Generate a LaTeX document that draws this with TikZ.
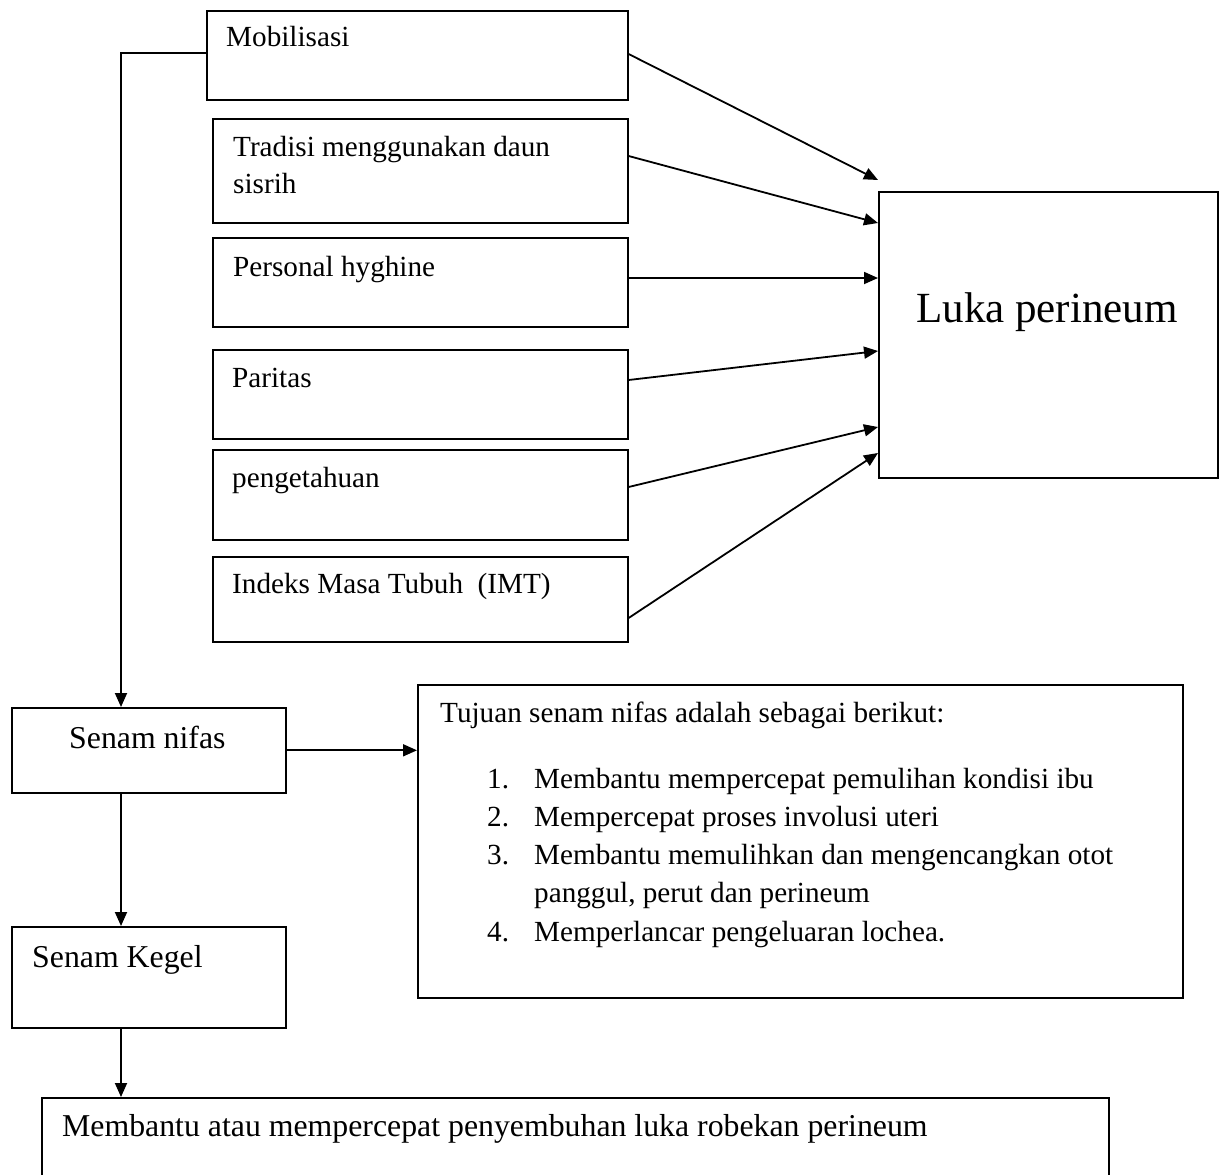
\documentclass[tikz,border=0pt]{standalone}
\usepackage{fontspec}
\setmainfont{Liberation Serif}
\usetikzlibrary{arrows.meta,calc}
\begin{document}
\begin{tikzpicture}[x=1pt,y=-1pt,
  box/.style={draw,line width=1.6pt,rectangle,inner sep=0pt,anchor=north west},
  txt/.style={anchor=base west,inner sep=0pt,font=\fontsize{29.2}{35}\selectfont},
  txtb/.style={anchor=base west,inner sep=0pt,font=\fontsize{31.8}{38}\selectfont},
  arr/.style={line width=1.8pt,-{Triangle[length=14pt,width=12pt]}}]
\useasboundingbox (0,0) rectangle (1221,1175);
\clip (0,0) rectangle (1221,1175);
% boxes
\node[box,minimum width=421pt,minimum height=89pt] (mob) at (206,10) {};
\node[box,minimum width=415pt,minimum height=104pt] (trad) at (212,118) {};
\node[box,minimum width=415pt,minimum height=89pt] (pers) at (212,237) {};
\node[box,minimum width=415pt,minimum height=89pt] (par) at (212,349) {};
\node[box,minimum width=415pt,minimum height=90pt] (peng) at (212,449) {};
\node[box,minimum width=415pt,minimum height=85pt] (imt) at (212,556) {};
\node[box,minimum width=339pt,minimum height=286pt] (luka) at (878,191) {};
\node[box,minimum width=274pt,minimum height=85pt] (nifas) at (11,707) {};
\node[box,minimum width=765pt,minimum height=313pt] (tuj) at (417,684) {};
\node[box,minimum width=274pt,minimum height=101pt] (kegel) at (11,926) {};
\node[box,minimum width=1067pt,minimum height=130pt] (help) at (41,1097) {};
% texts
\node[txt] (tmob) at (226,46) {Mobilisasi};
\node[txt] (ttrad1) at (233,156) {Tradisi menggunakan daun};
\node[txt] (ttrad2) at (233,193) {sisrih};
\node[txt] (tpers) at (233,276) {Personal hyghine};
\node[txt] (tpar) at (232,387) {Paritas};
\node[txt] (tpeng) at (232,487) {pengetahuan};
\node[txt] (timt) at (232,593) {Indeks Masa Tubuh\ \ (IMT)};
\node[anchor=base,inner sep=0pt,font=\fontsize{43}{50}\selectfont] (tluka) at (1047,322) {Luka perineum};
\node[txtb] (tnifas) at (69,748) {Senam nifas};
\node[txt] (ttuj) at (440,722) {Tujuan senam nifas adalah sebagai berikut:};
\node[txt] (n1) at (487,788) {1.};
\node[txt] (i1) at (534,788) {Membantu mempercepat pemulihan kondisi ibu};
\node[txt] (n2) at (487,826) {2.};
\node[txt] (i2) at (534,826) {Mempercepat proses involusi uteri};
\node[txt] (n3) at (487,864) {3.};
\node[txt] (i3) at (534,864) {Membantu memulihkan dan mengencangkan otot};
\node[txt] (i3b) at (534,902) {panggul, perut dan perineum};
\node[txt] (n4) at (487,941) {4.};
\node[txt] (i4) at (534,941) {Memperlancar pengeluaran lochea.};
\node[txtb] (tkegel) at (32,967) {Senam Kegel};
\node[txtb] (thelp) at (62,1136) {Membantu atau mempercepat penyembuhan luka robekan perineum};
% connection points
\coordinate (nifasin) at ($(nifas.north west)+(110,0)$);
\coordinate (nifasout) at ($(nifas.south west)+(110,0)$);
\coordinate (kegelin) at ($(kegel.north west)+(110,0)$);
\coordinate (kegelout) at ($(kegel.south west)+(110,0)$);
\coordinate (helpin) at ($(help.north west)+(80,0)$);
% connectors to Luka perineum
\draw[arr] ($(mob.north east)+(0,44)$) -- ($(luka.north west)+(0,-11)$);
\draw[arr] ($(trad.north east)+(0,38)$) -- ($(luka.north west)+(0,32)$);
\draw[arr] ($(pers.north east)+(0,41)$) -- ($(luka.north west)+(0,87)$);
\draw[arr] ($(par.north east)+(0,31)$) -- ($(luka.north west)+(0,160)$);
\draw[arr] ($(peng.north east)+(0,38)$) -- ($(luka.north west)+(0,236)$);
\draw[arr] ($(imt.north east)+(0,62)$) -- ($(luka.north west)+(0,262)$);
% left chain
\draw[arr] ($(mob.north west)+(0,43)$) -| (nifasin);
\draw[arr] (nifas.east) -- (nifas.east -| tuj.west);
\draw[arr] (nifasout) -- (kegelin);
\draw[arr] (kegelout) -- (helpin);
\end{tikzpicture}
\end{document}
